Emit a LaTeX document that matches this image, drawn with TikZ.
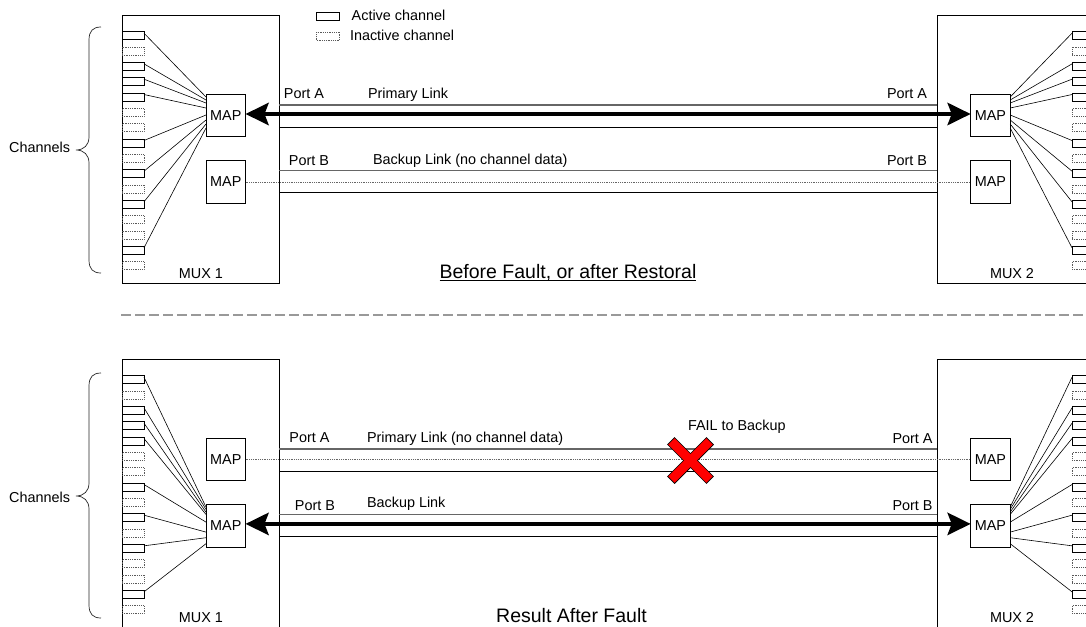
\documentclass[tikz,border=0pt]{standalone}
\usepackage{fontspec}
\setmainfont{Liberation Sans}
\usetikzlibrary{arrows.meta}
\begin{document}
\begin{tikzpicture}[x=1pt,y=-1pt,
  every node/.style={inner sep=0pt, outer sep=0pt},
  lbl/.style={font=\fontsize{14.4}{16}\selectfont},
  ttl/.style={font=\fontsize{19.5}{22}\selectfont},
  chact/.style={draw=black, line width=0.8pt, minimum width=22pt, minimum height=8pt, anchor=north west},
  chin/.style={draw=black!65, densely dotted, line width=0.8pt, minimum width=22pt, minimum height=8pt, anchor=north west},
  muxbox/.style={draw, line width=0.8pt, minimum width=157pt, minimum height=268pt, anchor=north west},
  mapbox/.style={draw, line width=0.8pt, minimum width=39.5pt, minimum height=42.4pt, anchor=north west, font=\fontsize{14.4}{16}\selectfont},
  wire/.style={line width=0.6pt},
  linktop/.style={draw=black!60, line width=1.2pt},
  linkbot/.style={draw=black, line width=0.8pt},
  dotlink/.style={draw=black!60, densely dotted, line width=0.8pt},
  bigarrow/.style={line width=4.6pt, {Stealth[length=23pt,width=22pt,inset=4pt]}-{Stealth[length=23pt,width=22pt,inset=4pt]}},
  sepline/.style={draw=black!40, line width=2.6pt, dash pattern=on 10pt off 4pt},
  bracestyle/.style={line width=0.7pt, black!85},
  xbar/.style={minimum width=54pt, minimum height=9pt}
]
\useasboundingbox (0,0) rectangle (1086,626);
\clip (0,0) rectangle (1086,626);

% ---------- two panels ----------
\foreach \p/\oy in {0/0, 1/344} {
  \node[muxbox] (M1-\p) at (122,{15+\oy}) {};
  \node[muxbox] (M2-\p) at (937.3,{15+\oy}) {};
  \foreach \i in {1,3,4,5,8,10,12,15} {
    \node[chact] (L\p-\i) at (122,{31.7+\oy+(\i-1)*15.33}) {};
    \node[chact] (R\p-\i) at (1072,{31.7+\oy+(\i-1)*15.33}) {};
  }
  \foreach \i in {2,6,7,9,11,13,14,16} {
    \node[chin] (L\p-\i) at (122,{31.7+\oy+(\i-1)*15.33}) {};
    \node[chin] (R\p-\i) at (1072,{31.7+\oy+(\i-1)*15.33}) {};
  }
  \node[mapbox] (LA\p) at (206,{94.3+\oy}) {MAP};
  \node[mapbox] (LB\p) at (206,{160.7+\oy}) {MAP};
  \node[mapbox] (RA\p) at (970.7,{94.3+\oy}) {MAP};
  \node[mapbox] (RB\p) at (970.7,{160.7+\oy}) {MAP};
  % link lines
  \draw[linktop] ([yshift=-90pt]M1-\p.north east) -- ([yshift=-90pt]M2-\p.north west);
  \draw[linkbot] ([yshift=-112pt]M1-\p.north east) -- ([yshift=-112pt]M2-\p.north west);
  \draw[linktop] ([yshift=-155.5pt]M1-\p.north east) -- ([yshift=-155.5pt]M2-\p.north west);
  \draw[linkbot] ([yshift=-177.5pt]M1-\p.north east) -- ([yshift=-177.5pt]M2-\p.north west);
  % MUX labels
  \node[lbl, anchor=base] (mx1-\p) at (201,{278+\oy}) {MUX 1};
  \node[lbl, anchor=base] (mx2-\p) at (1012,{278+\oy}) {MUX 2};
}

% ---------- wires, top panel (to LA0) ----------
\foreach \i/\d in {1/2.7,3/5.7,4/8.7,5/13.7,8/20.7,10/25.7,12/29.7,15/33.7} {
  \draw[wire] ([yshift=-1.5pt]L0-\i.north east) -- ([yshift=-\d pt]LA0.north west);
  \draw[wire] ([yshift=-1.5pt]R0-\i.north west) -- ([yshift=-\d pt]RA0.north east);
}
% ---------- wires, bottom panel (to LB1) ----------
\foreach \i/\d in {1/2.4,3/4.7,4/7.4,5/9.7,8/17.4,10/27.4,12/33,15/39} {
  \draw[wire] ([yshift=-1.5pt]L1-\i.north east) -- ([yshift=-\d pt]LB1.north west);
  \draw[wire] ([yshift=-1.5pt]R1-\i.north west) -- ([yshift=-\d pt]RB1.north east);
}

% ---------- data flows ----------
\draw[bigarrow] ([yshift=1.5pt]LA0.east) -- ([yshift=1.5pt]RA0.west);
\draw[dotlink] (LB0.east) -- (RB0.west);
\draw[dotlink] (LA1.east) -- (RA1.west);
\draw[bigarrow] ([yshift=2pt]LB1.east) -- ([yshift=2pt]RB1.west);

% ---------- link labels ----------
\node[lbl, anchor=base] (pa0l) at (304,98.3) {Port A};
\node[lbl, anchor=base west] (pl0) at (368,98.3) {Primary Link};
\node[lbl, anchor=base] (pb0l) at (309,165) {Port B};
\node[lbl, anchor=base west] (bl0) at (373,164) {Backup Link (no channel data)};
\node[lbl, anchor=base] (pa0r) at (907,98) {Port A};
\node[lbl, anchor=base] (pb0r) at (907,165) {Port B};

\node[lbl, anchor=base] (pa1l) at (309.5,442) {Port A};
\node[lbl, anchor=base west] (pl1) at (367,442) {Primary Link (no channel data)};
\node[lbl, anchor=base] (pb1l) at (315,510) {Port B};
\node[lbl, anchor=base west] (bl1) at (367,507) {Backup Link};
\node[lbl, anchor=base] (pa1r) at (912.5,443) {Port A};
\node[lbl, anchor=base] (pb1r) at (912.5,510) {Port B};

% ---------- legend ----------
\node[chact, minimum width=23pt] (legA) at (316.7,12.3) {};
\node[chin, minimum width=23pt] (legI) at (316.7,32.3) {};
\node[lbl, anchor=base west] (legAt) at (351.7,21) {Active channel};
\node[lbl, anchor=base west] (legIt) at (350,41) {Inactive channel};

% ---------- braces ----------
\foreach \t/\b/\m [count=\k] in {27/273/150, 373/618/496} {
  \draw[bracestyle] (101,\t) .. controls (93,\t) and (89,{\t+4}) .. (89,{\t+13})
    -- (89,{\m-13}) .. controls (89,{\m-5}) and (84,\m) .. (76,\m)
    .. controls (84,\m) and (89,{\m+5}) .. (89,{\m+13})
    -- (89,{\b-13}) .. controls (89,{\b-4}) and (93,\b) .. (101,\b);
}
\node[lbl, anchor=base east] (chl0) at (70,152.3) {Channels};
\node[lbl, anchor=base east] (chl1) at (70,502.3) {Channels};

% ---------- titles ----------
\node[ttl, anchor=base] (title0) at (568,278.4) {Before Fault, or after Restoral};
\draw[line width=0.9pt] ([yshift=-2.5pt]title0.base west) -- ([yshift=-2.5pt]title0.base east);
\node[ttl, anchor=base] (title1) at (571.5,622) {Result After Fault};

% ---------- separator ----------
\coordinate (sepL) at (121,315);
\coordinate (sepR) at (1086,315);
\draw[sepline] (sepL) -- (sepR);

% ---------- failure mark ----------
\node[lbl, anchor=base west] (fail) at (688,430) {FAIL to Backup};
\node[xbar, rotate=45, draw=black, line width=1.6pt] (xa) at (690.5,460.5) {};
\node[xbar, rotate=-45, draw=black, line width=1.6pt] (xb) at (690.5,460.5) {};
\node[xbar, rotate=45, fill=red] (xa2) at (690.5,460.5) {};
\node[xbar, rotate=-45, fill=red] (xb2) at (690.5,460.5) {};
\end{tikzpicture}
\end{document}
